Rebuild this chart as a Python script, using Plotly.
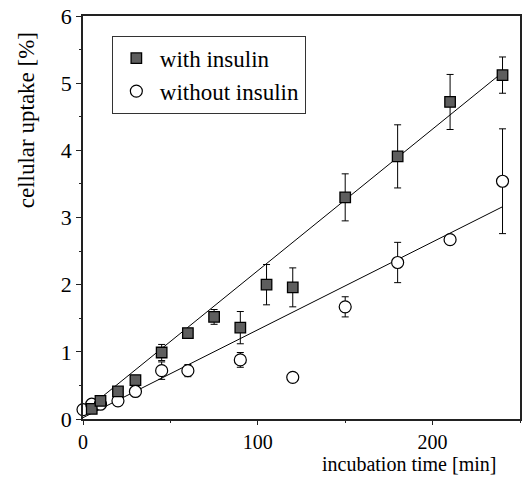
import plotly.graph_objects as go

# data
time_with = [5, 10, 20, 30, 45, 60, 75, 90, 105, 120, 150, 180, 210, 240]
uptake_with = [0.15, 0.27, 0.41, 0.58, 0.99, 1.28, 1.52, 1.36, 2.00, 1.96, 3.30, 3.91, 4.72, 5.12]
err_with = [0.0, 0.0, 0.0, 0.0, 0.12, 0.0, 0.11, 0.24, 0.30, 0.29, 0.35, 0.47, 0.41, 0.27]

time_without = [0, 5, 10, 20, 30, 45, 60, 90, 120, 150, 180, 210, 240]
uptake_without = [0.14, 0.22, 0.22, 0.27, 0.41, 0.72, 0.72, 0.88, 0.62, 1.67, 2.33, 2.67, 3.54]
err_without = [0.0, 0.0, 0.0, 0.0, 0.0, 0.13, 0.09, 0.11, 0.0, 0.15, 0.30, 0.06, 0.78]

fit_time = [0, 240]
fit_with = [0.10, 5.16]
fit_without = [0.02, 3.16]

x_ticks = [0, 100, 200]
y_ticks = [0, 1, 2, 3, 4, 5, 6]

FONT = "Liberation Serif, Times New Roman, Times, serif"

fig = go.Figure()

fig.add_trace(go.Scatter(x=fit_time, y=fit_with, mode="lines",
                         line=dict(color="black", width=1), showlegend=False,
                         hoverinfo="skip"))
fig.add_trace(go.Scatter(x=fit_time, y=fit_without, mode="lines",
                         line=dict(color="black", width=1), showlegend=False,
                         hoverinfo="skip"))

fig.add_trace(go.Scatter(
    x=time_without, y=uptake_without, mode="markers", name="without insulin",
    marker=dict(symbol="circle", size=12, color="white",
                line=dict(color="black", width=1.2)),
    error_y=dict(type="data", array=err_without, color="black", thickness=1, width=3.5),
    cliponaxis=False))

fig.add_trace(go.Scatter(
    x=time_with, y=uptake_with, mode="markers", name="with insulin",
    marker=dict(symbol="square", size=10.5, color="#5e5e5e",
                line=dict(color="black", width=1.3)),
    error_y=dict(type="data", array=err_with, color="black", thickness=1, width=3.5),
    cliponaxis=False))

fig.update_layout(
    width=526, height=478,
    margin=dict(l=83, r=4, t=12, b=59),
    paper_bgcolor="white", plot_bgcolor="white",
    font=dict(family=FONT, color="black", size=20),
    showlegend=True,
    legend=dict(x=0.066, y=0.951, xanchor="left", yanchor="top",
                bordercolor="#333", borderwidth=1, bgcolor="white",
                font=dict(family=FONT, size=23, color="black"),
                itemwidth=37,
                traceorder="reversed", tracegroupgap=4),
    xaxis=dict(range=[0, 250], tickvals=x_ticks, ticks="outside", ticklen=4,
               tickwidth=1, tickcolor="#222", showgrid=False, zeroline=False,
               showline=True, linecolor="#222", linewidth=1.5, mirror=True,
               ticklabelstandoff=0,
               tickfont=dict(family=FONT, size=20, color="black"),
               minor=dict(dtick=50, ticks="outside", ticklen=2, tickcolor="#222")),
    yaxis=dict(range=[0, 6], tickvals=y_ticks, ticks="outside", ticklen=5,
               tickwidth=1, tickcolor="#222", showgrid=False, zeroline=False,
               showline=True, linecolor="#222", linewidth=1.5, mirror=True,
               ticklabeloverflow="allow",
               tickfont=dict(family=FONT, size=22, color="black"),
               minor=dict(dtick=0.5, ticks="outside", ticklen=2, tickcolor="#222")),
    annotations=[
        dict(text="incubation time [min]", xref="paper", yref="paper",
             x=0.95, y=-0.1445, xanchor="right", yanchor="bottom",
             showarrow=False, font=dict(family=FONT, size=20, color="black")),
        dict(text="cellular uptake [%]", xref="paper", yref="paper",
             x=-0.1276, y=0.742, xanchor="center", yanchor="middle",
             textangle=-90, showarrow=False,
             font=dict(family=FONT, size=23, color="black")),
    ],
)

fig.write_html("out.html")
